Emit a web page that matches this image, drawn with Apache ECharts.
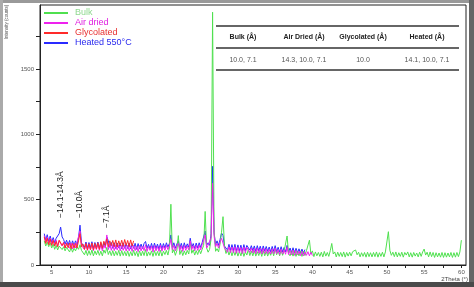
<!DOCTYPE html>
<html><head><meta charset="utf-8">
<script src="https://cdn.jsdelivr.net/npm/echarts@6/dist/echarts.min.js"></script>
<style>html,body{margin:0;padding:0;background:#fff}#c{width:474px;height:287px}</style>
</head><body><div id="c"></div>
<script>
// ---- data (2Theta grid start / step, intensities in counts) ----
const seriesNames = ['Bulk', 'Air dried', 'Glycolated', 'Heated 550°C'];
const xStart = 4.0, xStep = 0.2;
const bulk = [
185,145,175,140,170,130,
160,120,150,115,145, 155,118,140,108,135, 140,100,132,98,128, 108,138,120,155,112,
118,78,112,72,110, 75,115,70,108,78, 112,74,106,70,115, 90,135,80,108,72,
110,70,105,74,112, 68,110,72,104,70, 108,66,102,70,112, 72,104,64,108,70,
106,72,118,68,100, 74,108,66,110,72, 104,70,112,68,106, 80,112,76,130,465,
92,118,74,110,225, 80,112,72,108,78, 112,84,175,90,116, 76,110,80,118,86,
120,150,410,130,98, 120,200,1935,260,105, 125,100,160,250,370, 140,88,118,76,112,
70,108,74,110,68, 104,70,112,66,100, 76,120,72,106,70, 110,68,102,72,108,
66,110,70,104,68, 100,74,112,70,125, 78,108,70,112,74, 106,110,222,88,70,
104,68,110,66,102, 70,108,66,104,72, 110,120,190,84,108, 64,100,70,96,66,
98,62,104,68,96, 66,110,165,84,100, 62,98,66,96,64, 100,60,96,68,98,
70,102,90,115,78, 98,62,94,66,96, 60,98,64,94,62, 96,64,100,60,94,
66,98,62,100,95, 255,112,74,98,64, 100,62,94,66,98, 60,96,76,100,62,
94,60,96,68,92, 62,98,66,100,122, 76,98,62,100,64, 96,58,94,62,92,
60,96,58,94,60, 92,62,96,58,94, 60,96,64,100,190
];
const airDried = [
225,175,215,165,205,160,
195,150,190,145,185, 190,145,175,130,170, 172,128,168,122,165, 130,175,190,260,150,
165,118,160,112,158, 115,160,110,155,118, 160,112,155,108,150, 128,230,118,160,112,
155,110,150,114,152, 108,150,112,148,106, 150,108,146,104,150, 110,146,102,150,108,
144,110,155,104,142, 112,146,100,150,108, 144,104,150,106,146, 112,150,118,145,195,
118,150,108,145,165, 110,148,104,150,112, 146,116,185,118,148, 108,150,112,152,116,
155,150,230,130,150, 135,210,625,220,140, 165,130,175,205,195, 130,142,98,140,95,
138,94,140,90,136, 92,134,88,138,94, 135,150,96,130,92, 128,86,130,90,126,
84,128,88,124,86, 120,84,124,86,130, 86,118,80,122,84, 116,82,135,80,112,
78,114,74,110,78, 106,72,104,70,100, 74,102,70,98,72
];
const glycolated = [
215,165,205,155,198,150,
188,145,180,140,190, 200,150,170,130,165, 132,168,125,165,130, 165,130,185,240,140,
160,120,165,115,162, 118,168,115,165,122, 170,120,178,128,182, 150,200,140,185,148,
188,140,192,138,185, 145,190,142,195,150, 188,140,192,145,185
];
const heated = [
240,190,232,180,222,175,
210,170,205,200,240, 290,215,195,160,190, 152,188,145,185,150, 185,150,210,305,170,
180,135,176,130,172, 132,178,128,172,134, 176,130,170,126,174, 140,215,185,135,172,
128,170,126,168,130, 166,124,170,128,164, 126,168,122,162,128, 166,120,164,124,160,
126,164,180,128,158, 124,166,122,168,126, 160,122,166,124,164, 130,170,136,165,230,
135,170,128,160,185, 128,166,124,170,130, 162,136,205,134,164, 126,168,130,170,134,
172,175,260,150,170, 150,240,755,250,155, 185,150,195,245,225, 145,160,115,158,112,
156,110,158,106,154, 108,152,104,156,110, 150,165,114,148,110, 146,104,148,108,144,
102,146,106,142,104, 138,100,142,104,148, 102,136,98,140,100, 134,100,150,96,130,
96,132,92,128,94, 124,90,122,88,118
];
const xTickLabels = [5,10,15,20,25,30,35,40,45,50,55,60];
const xTickMarks = [5,7.5,10,12.5,15,17.5,20,22.5,25,27.5,30,32.5,35,37.5,40,42.5,45,47.5,50,52.5,55,57.5,60];
const yTickLabels = [0,500,1000,1500];
const yTickMarks = [0,250,500,750,1000,1250,1500,1750];
const tableHeaders = ['Bulk (Å)', 'Air Dried (Å)', 'Glycolated (Å)', 'Heated (Å)'];
const tableValues = ['10.0, 7.1', '14.3, 10.0, 7.1', '10.0', '14.1, 10.0, 7.1'];
const annotText = ['\u221214.1-14.3Å', '\u221210.0Å', '\u22127.1Å'];
const annotX = [6.2, 8.8, 12.4];
const annotY = [360, 360, 283];

const colors = {'Bulk':'#4fe04f', 'Air dried':'#ee22ee', 'Glycolated':'#ff2a2a', 'Heated 550°C':'#2a2aff'};
const textColors = {'Bulk':'#8fd88f', 'Air dried':'#e020e0', 'Glycolated':'#e83030', 'Heated 550°C':'#2a2aee'};

function pairs(arr){ return arr.map((v,i)=>[+(xStart + i*xStep).toFixed(2), v]); }

const chart = echarts.init(document.getElementById('c'), null, {renderer:'canvas'});
const FONT = 'Liberation Sans';
function mk(name, arr){
  return {name, type:'line', data:pairs(arr), showSymbol:false, symbol:'none',
    lineStyle:{width:1, color:colors[name]}, itemStyle:{color:colors[name]}, animation:false};
}
// draw order: heated, bulk, air dried, glycolated
const series = [mk('Heated 550°C', heated), mk('Bulk', bulk), mk('Air dried', airDried), mk('Glycolated', glycolated)];

chart.setOption({
  animation:false,
  grid:{left:40, right:8, top:5, bottom:22, show:true, borderColor:'#222', borderWidth:1, backgroundColor:'transparent'},
  legend:{
    data: seriesNames.map(n=>({name:n, textStyle:{color:textColors[n]}})),
    orient:'vertical', left:44, top:8, itemWidth:24, itemHeight:2, itemGap:0, icon:'rect',
    textStyle:{fontFamily:FONT, fontSize:9, lineHeight:10, padding:[0,0,0,2]}, padding:0
  },
  xAxis:{type:'value', min:3.43, max:60.62,
    axisLine:{lineStyle:{color:'#222'}},
    axisTick:{show:true, length:3, customValues:xTickMarks, lineStyle:{color:'#222'}},
    axisLabel:{customValues:xTickLabels, fontFamily:FONT, fontSize:6, color:'#555', margin:4},
    splitLine:{show:false}},
  yAxis:{type:'value', min:0, max:1990,
    axisLine:{show:true, lineStyle:{color:'#222'}},
    axisTick:{show:true, length:4, customValues:yTickMarks, lineStyle:{color:'#222'}},
    axisLabel:{customValues:yTickLabels, formatter:v=>String(v), fontFamily:FONT, fontSize:6, color:'#555', margin:6},
    splitLine:{show:false}},
  series
});

// graphics: frame, axis titles, table, annotations
const g = [];
g.push({type:'rect', shape:{x:0,y:0,width:474,height:3}, style:{fill:'#999'}, silent:true});
g.push({type:'rect', shape:{x:0,y:0,width:3,height:287}, style:{fill:'#aaa'}, silent:true});
g.push({type:'rect', shape:{x:469,y:0,width:5,height:287}, style:{fill:'#666'}, silent:true});
g.push({type:'rect', shape:{x:0,y:282,width:474,height:5}, style:{fill:'#4a4a4a'}, silent:true});
g.push({type:'text', x:7, y:22, rotation:Math.PI/2,
  style:{text:'Intensity (counts)', fontFamily:FONT, fontSize:4.5, fill:'#555', align:'center', verticalAlign:'middle'}});
g.push({type:'text', x:468, y:279,
  style:{text:'2Theta (°)', fontFamily:FONT, fontSize:6, fill:'#444', align:'right', verticalAlign:'middle'}});
// table
[26,48,70].forEach(y=>g.push({type:'line', shape:{x1:216,y1:y,x2:459,y2:y}, style:{stroke:'#333', lineWidth:1.5}}));
const colX = [243,304,363,427];
tableHeaders.forEach((t,i)=>g.push({type:'text', x:colX[i], y:37,
  style:{text:t, fontFamily:FONT, fontWeight:'bold', fontSize:7, fill:'#222', align:'center', verticalAlign:'middle'}}));
tableValues.forEach((t,i)=>g.push({type:'text', x:colX[i], y:60,
  style:{text:t, fontFamily:FONT, fontSize:7, fill:'#555', align:'center', verticalAlign:'middle'}}));
// annotations
annotText.forEach((t,i)=>{
  const p = chart.convertToPixel({gridIndex:0}, [annotX[i], annotY[i]]);
  g.push({type:'text', x:p[0], y:p[1], rotation:Math.PI/2,
    style:{text:t, fontFamily:FONT, fontSize:8.5, fill:'#222', align:'left', verticalAlign:'middle'}});
});
chart.setOption({graphic:g});
</script></body></html>
